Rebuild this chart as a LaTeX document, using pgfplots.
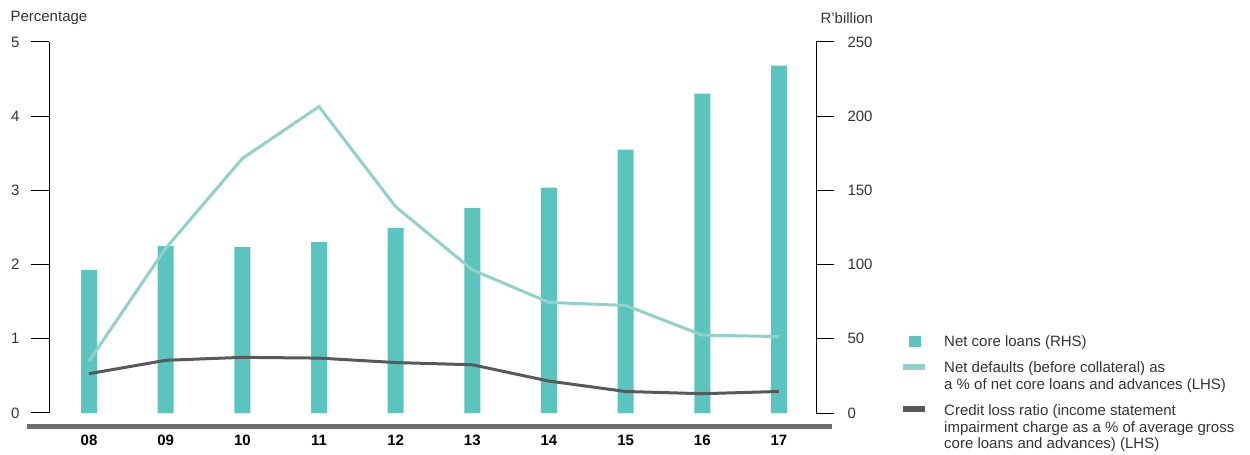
\documentclass[border=0pt]{standalone}
\usepackage{fontspec}
\setmainfont{Liberation Sans}
\usepackage{pgfplots}
\pgfplotsset{compat=1.18}
\definecolor{barc}{HTML}{5BC4BE}
\definecolor{ndc}{HTML}{92D1CB}
\definecolor{clc}{HTML}{58595B}
\definecolor{basec}{HTML}{6D6E71}
\definecolor{txt}{HTML}{333333}
\pgfplotsset{
 common/.style={
  scale only axis, width=767bp, height=371bp, at={(49bp,42bp)}, anchor=south west,
  xmin=-0.522, xmax=9.483, clip=false,
  font=\fontsize{15bp}{18bp}\selectfont,
  tick align=outside, major tick length=18bp,
  every tick/.style={black, line width=1bp},
  axis line style={black, line width=1bp},
  /pgf/number format/assume math mode=true,
  ticklabel style={text=txt},
 }
}
\begin{document}
\begin{tikzpicture}
\path[use as bounding box] (0,0) rectangle (1250bp,455bp);
\draw[basec, line width=5bp] (27bp,28bp) -- (832bp,28bp);
\begin{axis}[common,
  axis y line*=right, axis x line*=bottom, x axis line style={draw=none},
  ymin=0, ymax=250, ytick={0,50,...,250},
  xtick={0,...,9}, xticklabels={08,09,10,11,12,13,14,15,16,17},
  x tick style={draw=none},
  xticklabel style={font=\fontsize{15bp}{18bp}\selectfont\bfseries, text=black, yshift=-0.5bp},
  yticklabel style={xshift=10bp},
]
\addplot[ybar, bar width=16bp, fill=barc, draw=none] coordinates {
(0,96.4) (1,112.5) (2,111.9) (3,115.2) (4,124.7) (5,138.1) (6,151.8) (7,177.4) (8,215.2) (9,234)};
\node[anchor=west, text=txt] at (axis description cs:1.0013,1.0647) {R’billion};
\end{axis}
\begin{axis}[common,
  axis y line*=left, axis x line=none,
  ymin=0, ymax=5, ytick={0,...,5},
  yticklabel style={xshift=-8bp},
  legend style={at={(1.1095,0.2094)}, anchor=north west, draw=none, fill=none,
    font=\fontsize{15bp}{16.5bp}\selectfont, row sep=14bp, inner sep=0pt,
    nodes={align=left, text=txt, inner sep=0pt}},
  legend cell align=left,
]
\addlegendimage{legend image code/.code={\fill[barc] (6bp,-5bp) rectangle (17bp,5bp); \path[draw=none,fill=none] (0,0) -- (41bp,0);}}
\addlegendentry{Net core loans (RHS)}
\addplot[ndc, line width=3bp, legend image code/.code={\draw[ndc, line width=6bp] (0,9bp) -- (22bp,9bp); \path[draw=none,fill=none] (0,-12.5bp) -- (41bp,12.5bp);}] coordinates {
(0,0.70) (1,2.22) (2,3.43) (3,4.13) (4,2.78) (5,1.93) (6,1.49) (7,1.45) (8,1.05) (9,1.03)};
\addlegendentry{Net defaults (before collateral) as\\a \% of net core loans and advances (LHS)}
\addplot[clc, line width=3bp, legend image code/.code={\draw[clc, line width=6bp] (0,18bp) -- (22bp,18bp); \path[draw=none,fill=none] (0,-21.5bp) -- (41bp,21.5bp);}] coordinates {
(0,0.53) (1,0.71) (2,0.75) (3,0.74) (4,0.68) (5,0.65) (6,0.43) (7,0.29) (8,0.26) (9,0.29)};
\addlegendentry{Credit loss ratio (income statement\\impairment charge as a \% of average gross\\core loans and advances) (LHS)}
\node[anchor=west, text=txt] at (axis description cs:-0.0547,1.0647) {Percentage};
\end{axis}
\end{tikzpicture}
\end{document}
